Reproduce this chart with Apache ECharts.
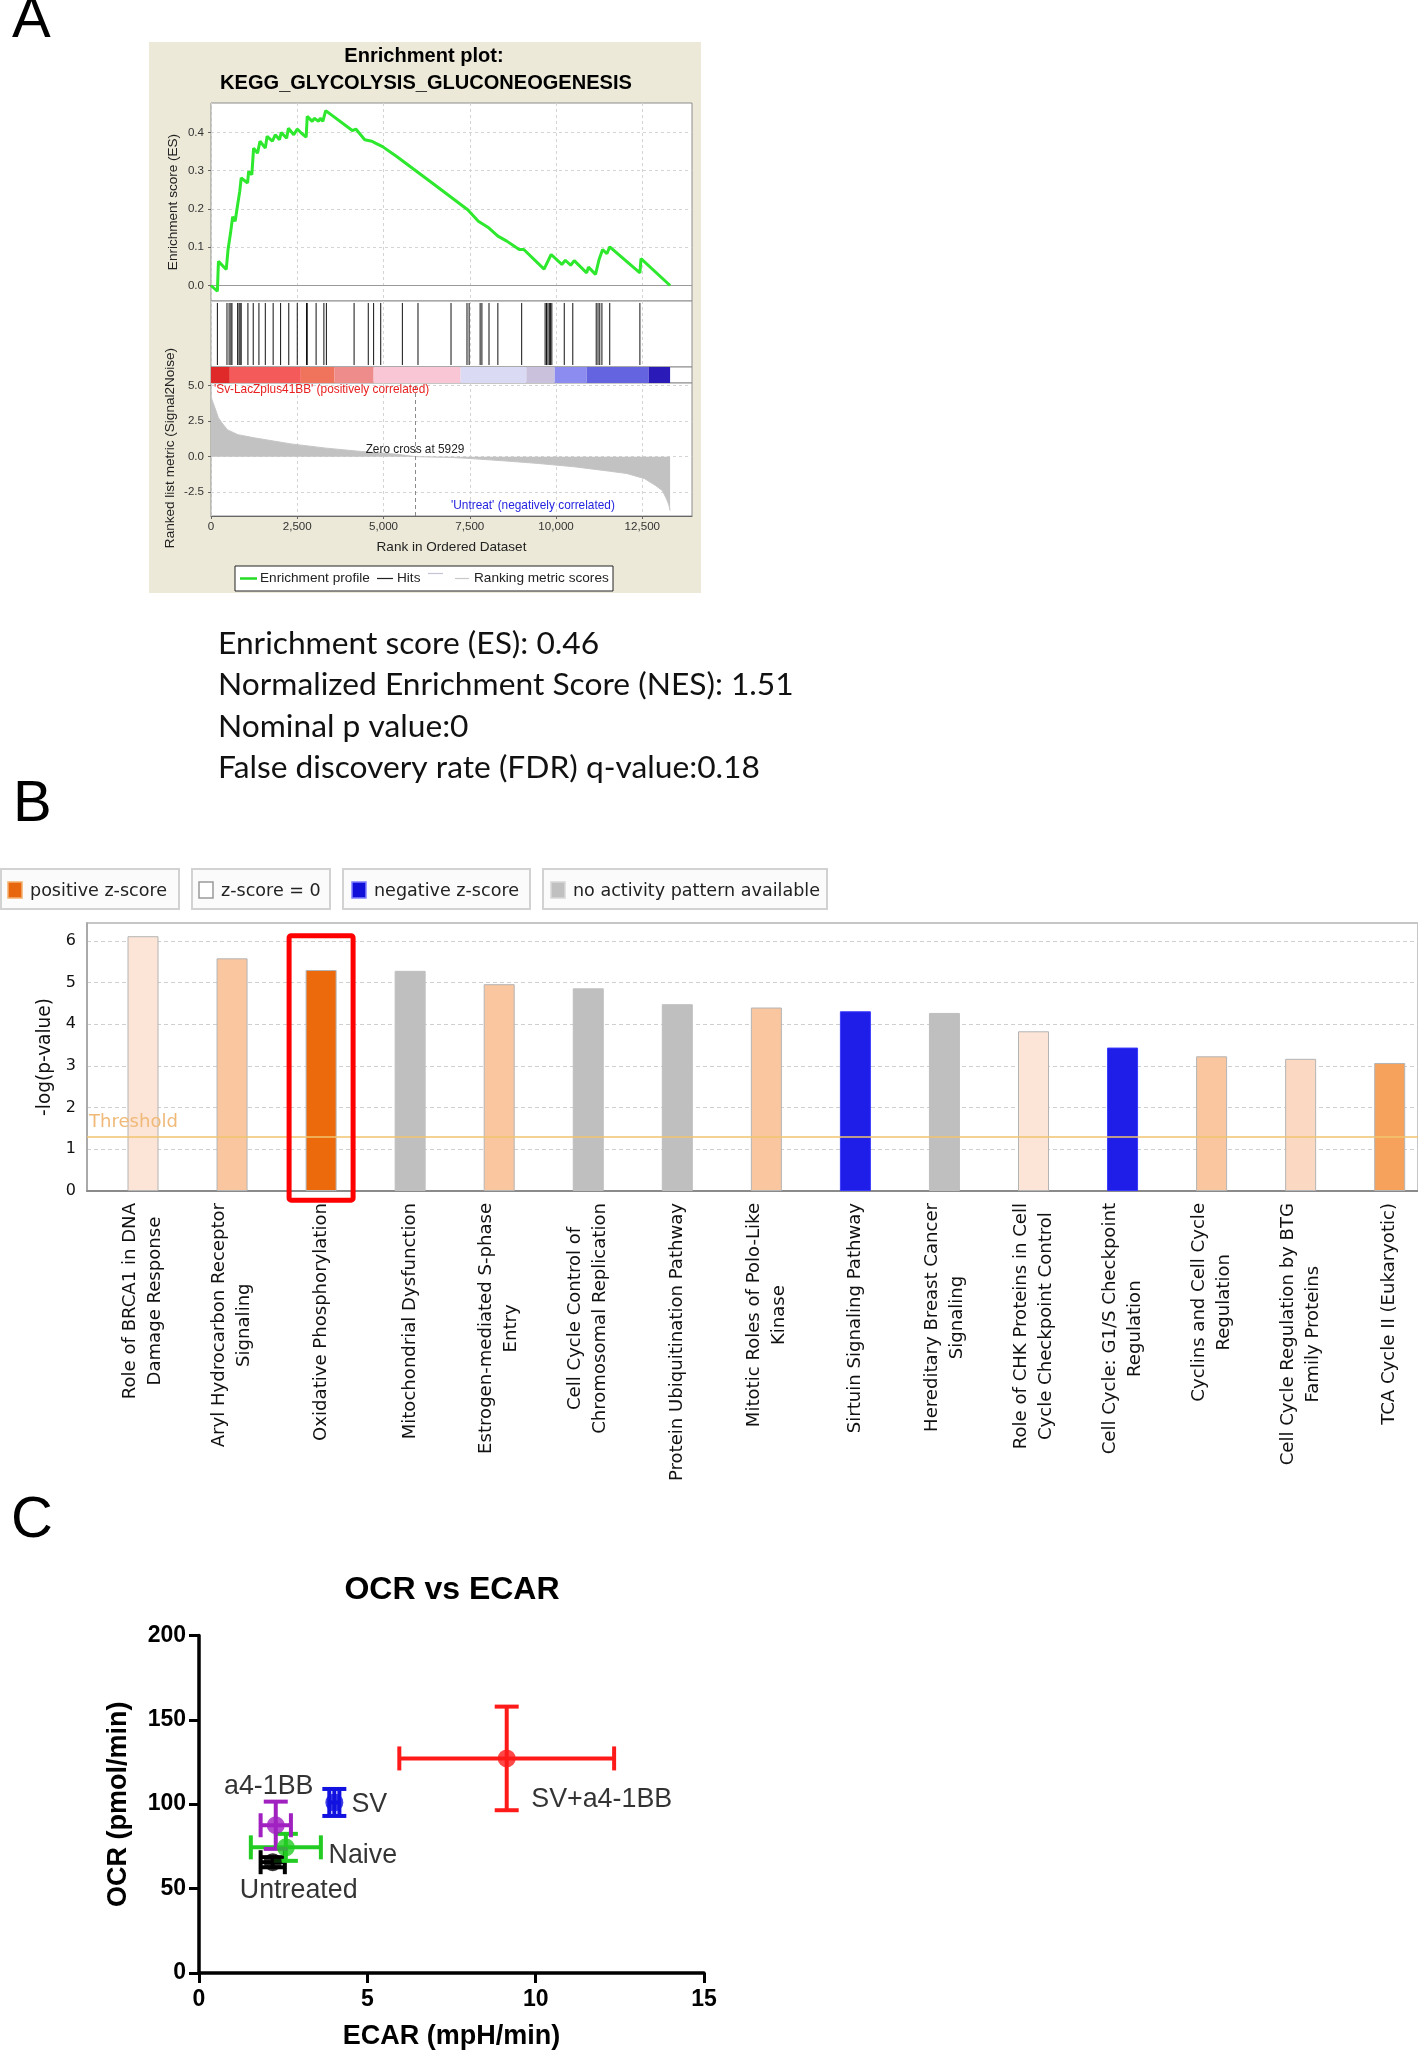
<!DOCTYPE html>
<html><head><meta charset="utf-8">
<script src="https://cdn.jsdelivr.net/npm/echarts@6/dist/echarts.min.js"></script>
<style>html,body{margin:0;padding:0;background:#fff}#c{width:1418px;height:2051px}</style>
</head><body><div id="c"></div>
<script>
// ================= DATA =================
// Panel A : GSEA enrichment plot
const esRanks = [0,185,216,442,494,566,628,700,772,833,875,1060,1091,1183,1235,1348,1420,1574,1626,1780,1862,1986,2037,2192,2243,2398,2500,2624,2758,2789,2933,2994,3118,3169,3241,3324,4095,4198,4456,4559,4662,4765,4971,5382,6411,7440,7749,8057,8315,8572,8932,9066,9652,9858,10167,10270,10424,10527,10887,10938,11144,11247,11350,11473,11556,12431,12462,13305];
const esScores = [0,-0.015,0.063,0.042,0.094,0.137,0.18,0.168,0.211,0.246,0.281,0.268,0.298,0.29,0.359,0.346,0.377,0.359,0.39,0.377,0.394,0.381,0.4,0.385,0.411,0.394,0.409,0.398,0.388,0.442,0.429,0.437,0.429,0.437,0.429,0.457,0.405,0.409,0.381,0.379,0.377,0.372,0.363,0.337,0.268,0.198,0.168,0.15,0.129,0.116,0.094,0.094,0.043,0.081,0.055,0.066,0.053,0.065,0.033,0.048,0.029,0.068,0.094,0.083,0.101,0.033,0.07,0];
const hitRanks = [185,463,525,576,607,772,813,844,875,1070,1224,1389,1574,1801,2017,2254,2500,2768,2789,3046,3272,3344,4147,4558,4713,4919,5546,5999,6956,7419,7481,7800,7851,8057,8314,9004,9683,9724,9765,9806,9837,9878,10238,10485,11164,11216,11267,11329,11556,12430];
const metricRanks = [0,30,113,215,318,472,779,1292,2317,3342,4367,5392,5929,6929,7442,8467,9492,10517,11542,12054,12567,12874,13079,13202,13270,13305];
const metricScores = [4.25,4.0,3.45,2.74,2.38,1.9,1.55,1.31,0.9,0.6,0.36,0.17,0,-0.05,-0.12,-0.29,-0.48,-0.71,-1.02,-1.19,-1.55,-2.02,-2.38,-2.98,-3.4,-3.8];
const colorBandEdges = [0,545,2603,3581,4713,7234,9138,9961,10887,12688,13305];
const zeroCross = 5929;
const rankTicks = [0,2500,5000,7500,10000,12500];
const esTicks = [0,0.1,0.2,0.3,0.4];
const metricTicks = [-2.5,0,2.5,5];
const gseaTitle = ['Enrichment plot:', 'KEGG_GLYCOLYSIS_GLUCONEOGENESIS'];
const statLines = ['Enrichment score (ES): 0.46','Normalized Enrichment Score (NES): 1.51','Nominal p value:0','False discovery rate (FDR) q-value:0.18'];

// Panel B : IPA canonical pathways
const pathways = ['Role of BRCA1 in DNA\nDamage Response','Aryl Hydrocarbon Receptor\nSignaling','Oxidative Phosphorylation','Mitochondrial Dysfunction','Estrogen-mediated S-phase\nEntry','Cell Cycle Control of\nChromosomal Replication','Protein Ubiquitination Pathway','Mitotic Roles of Polo-Like\nKinase','Sirtuin Signaling Pathway','Hereditary Breast Cancer\nSignaling','Role of CHK Proteins in Cell\nCycle Checkpoint Control','Cell Cycle: G1/S Checkpoint\nRegulation','Cyclins and Cell Cycle\nRegulation','Cell Cycle Regulation by BTG\nFamily Proteins','TCA Cycle II (Eukaryotic)'];
const negLogP = [6.11,5.58,5.30,5.28,4.96,4.86,4.48,4.40,4.31,4.27,3.83,3.44,3.23,3.17,3.07];
const zBin = ['faint','light','strong','na','light','na','na','light','neg','na','faint','neg','light','paler','mid'];
const thresholdValue = 1.3;
const highlighted = 'Oxidative Phosphorylation';
const bTicks = [0,1,2,3,4,5,6];
const legendB = ['positive z-score','z-score = 0','negative z-score','no activity pattern available'];

// Panel C : OCR vs ECAR
const groups = ['Untreated','Naive','a4-1BB','SV','SV+a4-1BB'];
const ecar = [2.19,2.58,2.28,4.02,9.14];
const ecarErr = [0.36,1.04,0.45,0.15,3.19];
const ocr = [65.6,74.4,87.5,101.0,127.1];
const ocrErr = [3.0,8.0,14.0,8.0,30.7];

// ================= STYLE / LAYOUT =================
const SANS = '"Liberation Sans", Arial, sans-serif';
const DEJA = '"DejaVu Sans", Verdana, sans-serif';
const LATO = 'Lato, "Open Sans", sans-serif';
const mctx = document.createElement('canvas').getContext('2d');
function fit(text, fam, weight, w) { mctx.font = weight + ' 100px ' + fam; return 100 * w / mctx.measureText(text).width; }

const bandColors = ['#e02a2a','#f55a5a','#f0735c','#ee8c8c','#f8c6d4','#dadaf4','#cac2dc','#8c8cf0','#6464e0','#2a1ab8'];
const zColors = {faint:'#fce5d6', light:'#f9c6a0', strong:'#ec6a0c', na:'#bfbfbf', neg:'#1e1ee8', paler:'#fbd8c2', mid:'#f6a25c'};
const groupColors = ['#000000','#22cc22','#a020c0','#1212e0','#ff1a1a'];
const labelOffsets = [[26,28],[77,8],[-7,-39],[35,2],[95,41]];

const tickSz = fit('12,500', SANS, 'normal', 35.5);
const axNameSz = fit('Rank in Ordered Dataset', SANS, 'normal', 150);
const titleSz = fit(gseaTitle[1], SANS, 'bold', 412);
const statSz = fit(statLines[3], LATO, 'normal', 542);
const catSz = fit('Oxidative Phosphorylation', DEJA, 'normal', 238);
const legBSz = fit(legendB[3], DEJA, 'normal', 247);
const ylabBSz = fit('-log(p-value)', DEJA, 'normal', 118);
const thrSz = fit('Threshold', DEJA, 'normal', 89);
const smallSz = fit("'Untreat' (negatively correlated)", SANS, 'normal', 164);
const legASz = fit('Enrichment profile', SANS, 'normal', 110);
const cLabSz = fit('SV+a4-1BB', SANS, 'normal', 141);

// ================= GRAPHICS (text, frames) =================
const G = [];
let gid = 0;
function txt(text, x, y, o) {
  G.push({type:'text', id:'t'+(gid++), x, y, rotation:o.rot||0, z:50, silent:true,
    style:{text, fill:o.color||'#000', fontFamily:o.family||SANS, fontSize:o.size, fontWeight:o.weight||'normal', align:o.align||'left', verticalAlign:o.va||'middle'}});
}
function rect(x, y, w, h, fill, stroke, lw, z) {
  G.push({type:'rect', id:'r'+(gid++), z:z==null?40:z, silent:true, shape:{x, y, width:w, height:h}, style:{fill, stroke, lineWidth:lw||1}});
}
function line(x1, y1, x2, y2, stroke, lw) {
  G.push({type:'line', id:'l'+(gid++), z:50, silent:true, shape:{x1,y1,x2,y2}, style:{stroke, lineWidth:lw||1}});
}
// panel letters
txt('A', 12, 21, {size:58});
txt('B', 13, 805, {size:58});
txt('C', 11, 1521, {size:58});
// panel A frame + titles
rect(149, 42, 552, 551, '#ece9d8', null, 0, -10);
txt(gseaTitle[0], 424, 56, {size:titleSz, weight:'bold', align:'center'});
txt(gseaTitle[1], 426, 83, {size:titleSz, weight:'bold', align:'center'});
txt('Enrichment score (ES)', 173, 202, {size:axNameSz, align:'center', rot:Math.PI/2, color:'#222'});
txt('Ranked list metric (Signal2Noise)', 170, 448, {size:axNameSz, align:'center', rot:Math.PI/2, color:'#222'});
txt("'Sv-LacZplus41BB' (positively correlated)", 214, 389.5, {size:smallSz, color:'#e82020'});
txt('Zero cross at 5929', 415, 450, {size:smallSz, align:'center', color:'#222'});
txt("'Untreat' (negatively correlated)", 451, 506, {size:smallSz, color:'#2424e0'});
// panel A legend
rect(235, 566, 378, 25, '#fff', '#222', 1, 40);
line(240, 578.5, 257, 578.5, '#22dd22', 2.5);
txt('Enrichment profile', 260, 578.5, {size:legASz, color:'#222'});
line(377, 578.5, 393, 578.5, '#222', 1.2);
txt('Hits', 397, 578.5, {size:legASz, color:'#222'});
line(428, 573.5, 443, 573.5, '#c4c4d4', 1.2);
line(455, 578.5, 469, 578.5, '#c8c8c8', 1.2);
txt('Ranking metric scores', 474, 578.5, {size:legASz, color:'#222'});
// stats text
[644, 685, 726.5, 768].forEach((y, i) => txt(statLines[i], 218, y, {size:statSz, family:LATO, color:'#111'}));
// panel B legend
const legBoxes = [[0,178],[191,138],[342,187],[542,284]];
const legSw = [[8,'#e8670e','#f4b070'],[199,'#ffffff','#9a9a9a'],[352,'#1010d8','#8080ff'],[551,'#c0c0c0','#d8d8d8']];
legBoxes.forEach((b, i) => {
  rect(b[0]+1, 869, b[1], 40, '#fbfbfb', '#d2d2d2', 2, 40);
  rect(legSw[i][0], 882, 14, 16, legSw[i][1], legSw[i][2], 1.5, 45);
  txt(legendB[i], legSw[i][0] + 22, 891, {size:legBSz, family:DEJA, color:'#222'});
});
// panel C title
txt('OCR vs ECAR', 452, 1590, {size:32, weight:'bold', align:'center'});

// ================= AXES =================
function rankAxis(gi, labels, split) {
  return {type:'value', gridIndex:gi, min:0, max:13940,
    axisLine:{show:labels, onZero:false, lineStyle:{color:'#666'}},
    axisTick:{show:labels, length:3, customValues:rankTicks, lineStyle:{color:'#666'}},
    axisLabel:{show:labels, margin:5, customValues:rankTicks, fontFamily:SANS, fontSize:tickSz, color:'#333', formatter:v => v.toLocaleString('en-US')},
    splitLine:{show:split, lineStyle:{color:'#d4d4d4', type:[3,3]}},
    name: labels ? 'Rank in Ordered Dataset' : '', nameLocation:'middle', nameGap:24,
    nameTextStyle:{fontFamily:SANS, fontSize:axNameSz, color:'#222'}};
}
function gseaY(gi, mn, mx, ticks, show) {
  return {type:'value', gridIndex:gi, min:mn, max:mx, show:show,
    axisLine:{show:false, onZero:false},
    axisTick:{show:true, length:3, customValues:ticks, lineStyle:{color:'#666'}},
    axisLabel:{margin:7, customValues:ticks, fontFamily:SANS, fontSize:tickSz, color:'#333', formatter:v => v.toFixed(1)},
    splitLine:{show:true, lineStyle:{color:'#d4d4d4', type:[3,3]}}};
}
const gBorder = {show:true, backgroundColor:'#fff', borderColor:'#8c8c8c', borderWidth:1};
const bBandW = 89.05, bLeft = 87, bWidth = 1331, bFirst = 143;
const bMin = -(bFirst - bLeft) / bBandW;
const bMax = bMin + bWidth / bBandW;

const option = {
  animation:false,
  backgroundColor:'#fff',
  textStyle:{fontFamily:SANS},
  grid:[
    Object.assign({left:211, top:103, width:481, height:198}, gBorder),
    Object.assign({left:211, top:301, width:481, height:66}, gBorder),
    Object.assign({left:211, top:367, width:481, height:16}, gBorder),
    Object.assign({left:211, top:383, width:481, height:133}, gBorder),
    {left:bLeft, top:923, width:bWidth, height:268, show:true, backgroundColor:'#fff', borderColor:'#c6c6c6', borderWidth:2},
    {left:199, top:1635.4, width:505, height:337.5}
  ],
  xAxis:[
    rankAxis(0, false, true),
    rankAxis(1, false, true),
    rankAxis(2, false, false),
    rankAxis(3, true, true),
    {type:'value', gridIndex:4, min:bMin, max:bMax,
      axisLine:{onZero:false, lineStyle:{color:'#8a8a8a', width:2}}, axisTick:{show:false, customValues:pathways.map((p,i)=>i)},
      splitLine:{show:false},
      axisLabel:{customValues:pathways.map((p,i)=>i), rotate:90, margin:12,
        formatter:v => pathways[Math.round(v)].split('\n').map(s => '{c|' + s + '}').join('\n'),
        rich:{c:{align:'center', fontFamily:DEJA, fontSize:catSz, lineHeight:25, color:'#111'}}}},
    {type:'value', gridIndex:5, min:0, max:15, interval:5,
      axisLine:{onZero:false, lineStyle:{color:'#000', width:3.5}}, axisTick:{length:10, lineStyle:{color:'#000', width:3}},
      axisLabel:{margin:15, fontFamily:SANS, fontWeight:'bold', fontSize:23, color:'#000'}, splitLine:{show:false},
      name:'ECAR (mpH/min)', nameLocation:'middle', nameGap:50,
      nameTextStyle:{fontFamily:SANS, fontWeight:'bold', fontSize:27, color:'#000'}}
  ],
  yAxis:[
    gseaY(0, -0.0405, 0.477, esTicks, true),
    {type:'value', gridIndex:1, min:0, max:1, show:false},
    {type:'value', gridIndex:2, min:0, max:1, show:false},
    gseaY(3, -4.18, 5.19, metricTicks, true),
    {type:'value', gridIndex:4, min:0, max:6.427,
      axisLine:{show:true, onZero:false, lineStyle:{color:'#a0a0a0', width:1.5}}, axisTick:{show:false, customValues:bTicks},
      axisLabel:{customValues:bTicks, margin:11, fontFamily:DEJA, fontSize:16, color:'#111'},
      splitLine:{show:true, lineStyle:{color:'#cfcfcf', type:[4,3]}},
      name:'-log(p-value)', nameLocation:'middle', nameGap:31,
      nameTextStyle:{fontFamily:DEJA, fontSize:ylabBSz, color:'#111'}},
    {type:'value', gridIndex:5, min:0, max:200, interval:50,
      axisLine:{onZero:false, lineStyle:{color:'#000', width:3.5}}, axisTick:{length:10, lineStyle:{color:'#000', width:3}},
      axisLabel:{margin:13, fontFamily:SANS, fontWeight:'bold', fontSize:23, color:'#000'}, splitLine:{show:false},
      name:'OCR (pmol/min)', nameLocation:'middle', nameGap:67,
      nameTextStyle:{fontFamily:SANS, fontWeight:'bold', fontSize:27, color:'#000'}}
  ],
  series:[
    {type:'line', xAxisIndex:0, yAxisIndex:0, data:esRanks.map((r,i)=>[r, esScores[i]]), showSymbol:false,
      lineStyle:{color:'#2ee82e', width:3}, z:5,
      markLine:{silent:true, symbol:'none', label:{show:false}, lineStyle:{color:'#9a9a9a', type:'solid', width:1}, data:[{yAxis:0}]}},
    {type:'custom', xAxisIndex:1, yAxisIndex:1, data:hitRanks.map(r=>[r, 1]),
      renderItem:(p, api) => { const x = api.coord([api.value(0), 0])[0]; const y0 = api.coord([0, 0.03])[1], y1 = api.coord([0, 0.97])[1];
        return {type:'line', shape:{x1:x, y1:y0, x2:x, y2:y1}, style:{stroke:'#111', lineWidth:1}}; }},
    {type:'custom', xAxisIndex:2, yAxisIndex:2, encode:{x:[0,1]},
      data:colorBandEdges.slice(0,-1).map((e,i)=>[e, colorBandEdges[i+1], i]),
      renderItem:(p, api) => { const a = api.coord([api.value(0), 1]), b = api.coord([api.value(1), 0]);
        return {type:'rect', shape:{x:a[0], y:a[1], width:b[0]-a[0], height:b[1]-a[1]}, style:{fill:bandColors[api.value(2)]}}; }},
    {type:'line', xAxisIndex:3, yAxisIndex:3, data:metricRanks.map((r,i)=>[r, metricScores[i]]), showSymbol:false,
      lineStyle:{color:'#c6c6c6', width:1}, areaStyle:{color:'#c2c2c2', opacity:1},
      markLine:{silent:true, symbol:'none', label:{show:false}, lineStyle:{color:'#8a8a8a', type:[4,3], width:1}, data:[{xAxis:zeroCross}]}},
    {type:'bar', xAxisIndex:4, yAxisIndex:4, barWidth:31,
      data:negLogP.map((v,i)=>({value:[i, v], itemStyle:{color:zColors[zBin[i]],
        borderColor: zBin[i]==='na' ? zColors.na : (zBin[i]==='neg' ? '#3a3aff' : '#b4b4b4'), borderWidth:1}})),
      markLine:{silent:true, symbol:'none', data:[{yAxis:thresholdValue}],
        lineStyle:{color:'#f1c56e', width:1.5, type:'solid'},
        label:{show:true, position:'insideStartTop', formatter:'Threshold', color:'#f0b978', fontFamily:DEJA, fontSize:thrSz, distance:[2,5]}}},
    {type:'custom', xAxisIndex:4, yAxisIndex:4, clip:false, z:10,
      data:[[pathways.indexOf(highlighted), 6.12, -0.22]],
      renderItem:(p, api) => { const a = api.coord([api.value(0), api.value(1)]), b = api.coord([api.value(0), api.value(2)]);
        return {type:'rect', shape:{x:a[0]-32, y:a[1], width:64, height:b[1]-a[1], r:2}, style:{fill:'none', stroke:'#ff0000', lineWidth:5}}; }},
    {type:'custom', xAxisIndex:5, yAxisIndex:5, clip:false, z:3,
      data:groups.map((g,i)=>[ecar[i], ocr[i], ecarErr[i], ocrErr[i], i]),
      renderItem:(p, api) => {
        const x = api.value(0), y = api.value(1), ex = api.value(2), ey = api.value(3), i = api.value(4);
        const c = api.coord([x, y]), l = api.coord([x-ex, y]), r = api.coord([x+ex, y]), t = api.coord([x, y+ey]), b = api.coord([x, y-ey]);
        const st = {stroke:groupColors[i], lineWidth:4}, cap = 12;
        const L = (x1,y1,x2,y2) => ({type:'line', shape:{x1,y1,x2,y2}, style:st});
        return {type:'group', children:[
          L(l[0], c[1], r[0], c[1]), L(l[0], c[1]-cap, l[0], c[1]+cap), L(r[0], c[1]-cap, r[0], c[1]+cap),
          L(c[0], t[1], c[0], b[1]), L(c[0]-cap, t[1], c[0]+cap, t[1]), L(c[0]-cap, b[1], c[0]+cap, b[1])]};
      }},
    {type:'scatter', xAxisIndex:5, yAxisIndex:5, symbol:'circle', symbolSize:18, z:4,
      data:groups.map((g,i)=>({name:g, value:[ecar[i], ocr[i]], itemStyle:{color:groupColors[i]},
        label:{show:true, position:'inside', offset:labelOffsets[i], formatter:g, color:'#000', fontFamily:SANS, fontSize:cLabSz}}))}
  ],
  graphic:{elements:G}
};
const chart = echarts.init(document.getElementById('c'), null, {renderer:'canvas', width:1418, height:2051});
chart.setOption(option);
</script></body></html>
